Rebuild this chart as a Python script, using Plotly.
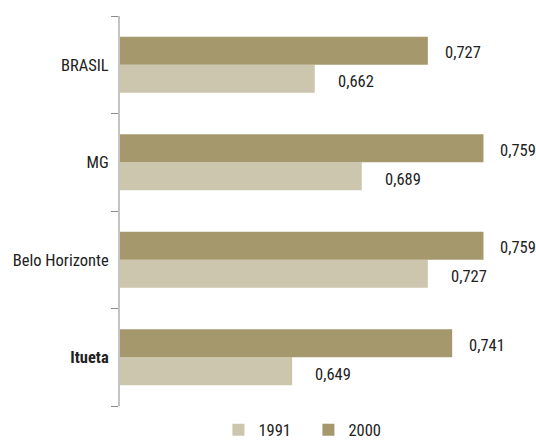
import plotly.graph_objects as go

# IDHM values by locality
categories = ["BRASIL", "MG", "Belo Horizonte", "Itueta"]
tick_labels = ["BRASIL", "MG", "Belo Horizonte", "<b>Itueta</b>"]
idhm_1991 = [0.662, 0.689, 0.727, 0.649]
idhm_2000 = [0.727, 0.759, 0.759, 0.741]

FONT = "Roboto Condensed, Liberation Sans Narrow, DejaVu Sans Condensed, sans-serif"
C_1991 = "#cdc6ae"
C_2000 = "#a4986c"
TEXT = "#222222"


def fmt(v):
    return f"{v:.3f}".replace(".", ",")


# bottom-to-top order so the first series sits below the second in each group
order = tick_labels[::-1]

fig = go.Figure()
fig.add_trace(go.Bar(
    name="1991", orientation="h", y=tick_labels, x=idhm_1991,
    marker=dict(color=C_1991, line=dict(width=0)),
))
fig.add_trace(go.Bar(
    name="2000", orientation="h", y=tick_labels, x=idhm_2000,
    marker=dict(color=C_2000, line=dict(width=0)),
))

annotations = []
for vals, shift_y, shift_x in ((idhm_1991, -17, 21), (idhm_2000, 12, 15)):
    for cat, v in zip(tick_labels, vals):
        annotations.append(dict(
            x=v, y=cat, xref="x", yref="y", text=fmt(v), showarrow=False,
            xanchor="left", yanchor="middle", xshift=shift_x, yshift=shift_y,
            font=dict(family=FONT, size=16.5, color=TEXT),
        ))

fig.update_layout(
    width=536, height=442,
    margin=dict(l=120, r=16, t=16, b=36, autoexpand=False),
    paper_bgcolor="white", plot_bgcolor="white",
    barmode="group", bargap=0.426, bargroupgap=0,
    font=dict(family=FONT, size=16.5, color=TEXT),
    annotations=annotations,
    showlegend=True,
    legend=dict(
        orientation="h", x=0.246, xanchor="left", y=-0.0615, yanchor="middle",
        font=dict(family=FONT, size=16.5, color=TEXT),
        entrywidth=45, entrywidthmode="pixels",
        bgcolor="rgba(0,0,0,0)", borderwidth=0,
    ),
    xaxis=dict(range=[0.55, 0.78], visible=False, showgrid=False, zeroline=False),
    yaxis=dict(
        type="category", categoryorder="array", categoryarray=order,
        tickson="boundaries", ticks="outside", ticklen=7, tickwidth=1,
        tickcolor="#8c8c8c", showline=True, linecolor="#c4c4c4", linewidth=2,
        ticklabelstandoff=6,
        showgrid=False, zeroline=False,
        tickfont=dict(family=FONT, size=16.5, color=TEXT),
    ),
)

fig.write_html("out.html")
